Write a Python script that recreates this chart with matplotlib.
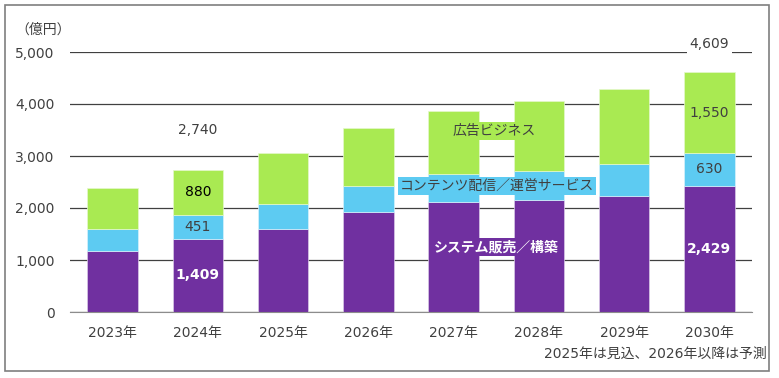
import matplotlib
matplotlib.use("Agg")
import matplotlib.pyplot as plt
from matplotlib.patches import Rectangle

plt.rcParams['font.family'] = ['DejaVu Sans', 'Noto Sans CJK JP']

# データ（億円）
years = ['2023年', '2024年', '2025年', '2026年', '2027年', '2028年', '2029年', '2030年']
system = [1180, 1409, 1600, 1925, 2110, 2150, 2240, 2429]
contents = [415, 451, 480, 505, 545, 570, 615, 630]
ads = [785, 880, 980, 1100, 1210, 1330, 1430, 1550]
yticks = [0, 1000, 2000, 3000, 4000, 5000]

c_sys = '#7030A0'
c_con = '#5DCBF2'
c_ads = '#A9EA52'
c_txt = '#404040'

fig = plt.figure(figsize=(7.79, 3.78), dpi=100)
ax = fig.add_axes([70 / 779, 1 - 312 / 378, 682 / 779, 260 / 378])

# 外枠
fig.patches.append(Rectangle((5 / 779, 1 - 371 / 378), 764 / 779, 366 / 378,
                             transform=fig.transFigure, fill=False,
                             edgecolor='#7f7f7f', linewidth=1.2))

x = list(range(len(years)))
w = 0.59
bottom2 = [a + b for a, b in zip(system, contents)]
ax.bar(x, system, w, color=c_sys, edgecolor='#d9c8e6', linewidth=0.5, zorder=3)
ax.bar(x, contents, w, bottom=system, color=c_con, edgecolor='#d8f1fb', linewidth=0.5, zorder=3)
ax.bar(x, ads, w, bottom=bottom2, color=c_ads, edgecolor='#e5f8cc', linewidth=0.5, zorder=3)

ax.set_xlim(-0.5, len(years) - 0.5)
ax.set_ylim(0, 5000)
ax.set_yticks(yticks)
ax.set_yticklabels([f'{v:,}' for v in yticks])
ax.set_xticks(x)
ax.set_xticklabels(years)
ax.tick_params(axis='both', length=0, labelsize=10, colors=c_txt)
ax.tick_params(axis='y', pad=11)
ax.tick_params(axis='x', pad=10)
for s in ['top', 'right', 'left']:
    ax.spines[s].set_visible(False)
ax.spines['bottom'].set_color('#8c8c8c')
ax.spines['bottom'].set_zorder(4)
ax.grid(axis='y', color='#404040', linewidth=0.9, zorder=0)
ax.set_axisbelow(True)

# 数値ラベル（2024年・2030年）
for i in [1, 7]:
    ax.text(i, system[i] / 2, f'{system[i]:,}', ha='center', va='center',
            color='white', fontsize=10, fontweight='bold', zorder=5)
    ax.text(i, system[i] + contents[i] / 2, f'{contents[i]:,}', ha='center', va='center',
            color=c_txt, fontsize=10, zorder=5)
    ax.text(i, bottom2[i] + ads[i] / 2, f'{ads[i]:,}', ha='center', va='center',
            color='black' if i == 1 else c_txt, fontsize=10, zorder=5)

total = [a + b + c for a, b, c in zip(system, contents, ads)]
ax.text(1, 3500, f'{total[1]:,}', ha='center', va='center', color=c_txt, fontsize=10)
ax.text(7, 5150, f'{total[7]:,}', ha='center', va='center', color=c_txt, fontsize=10,
        bbox=dict(facecolor='white', edgecolor='none', pad=2), clip_on=False, zorder=6)

# 系列名
ax.text(4.47, 3480, '広告ビジネス', ha='center', va='center', color=c_txt, fontsize=10,
        bbox=dict(facecolor=c_ads, edgecolor='none', pad=1.5), zorder=6)
ax.text(4.51, 2420, 'コンテンツ配信／運営サービス', ha='center', va='center', color=c_txt,
        fontsize=10, bbox=dict(facecolor=c_con, edgecolor='none', pad=1.5), zorder=6)
ax.text(4.5, 1250, 'システム販売／構築', ha='center', va='center', color='white',
        fontsize=10, fontweight='bold',
        bbox=dict(facecolor=c_sys, edgecolor='none', pad=1.5), zorder=6)

fig.text(15 / 779, 1 - 30 / 378, '（億円）', ha='left', va='center', color=c_txt, fontsize=10)
fig.text(767 / 779, 1 - 354 / 378, '2025年は見込、2026年以降は予測', ha='right', va='center',
         color=c_txt, fontsize=10)

fig.savefig('out.png', dpi=100)
